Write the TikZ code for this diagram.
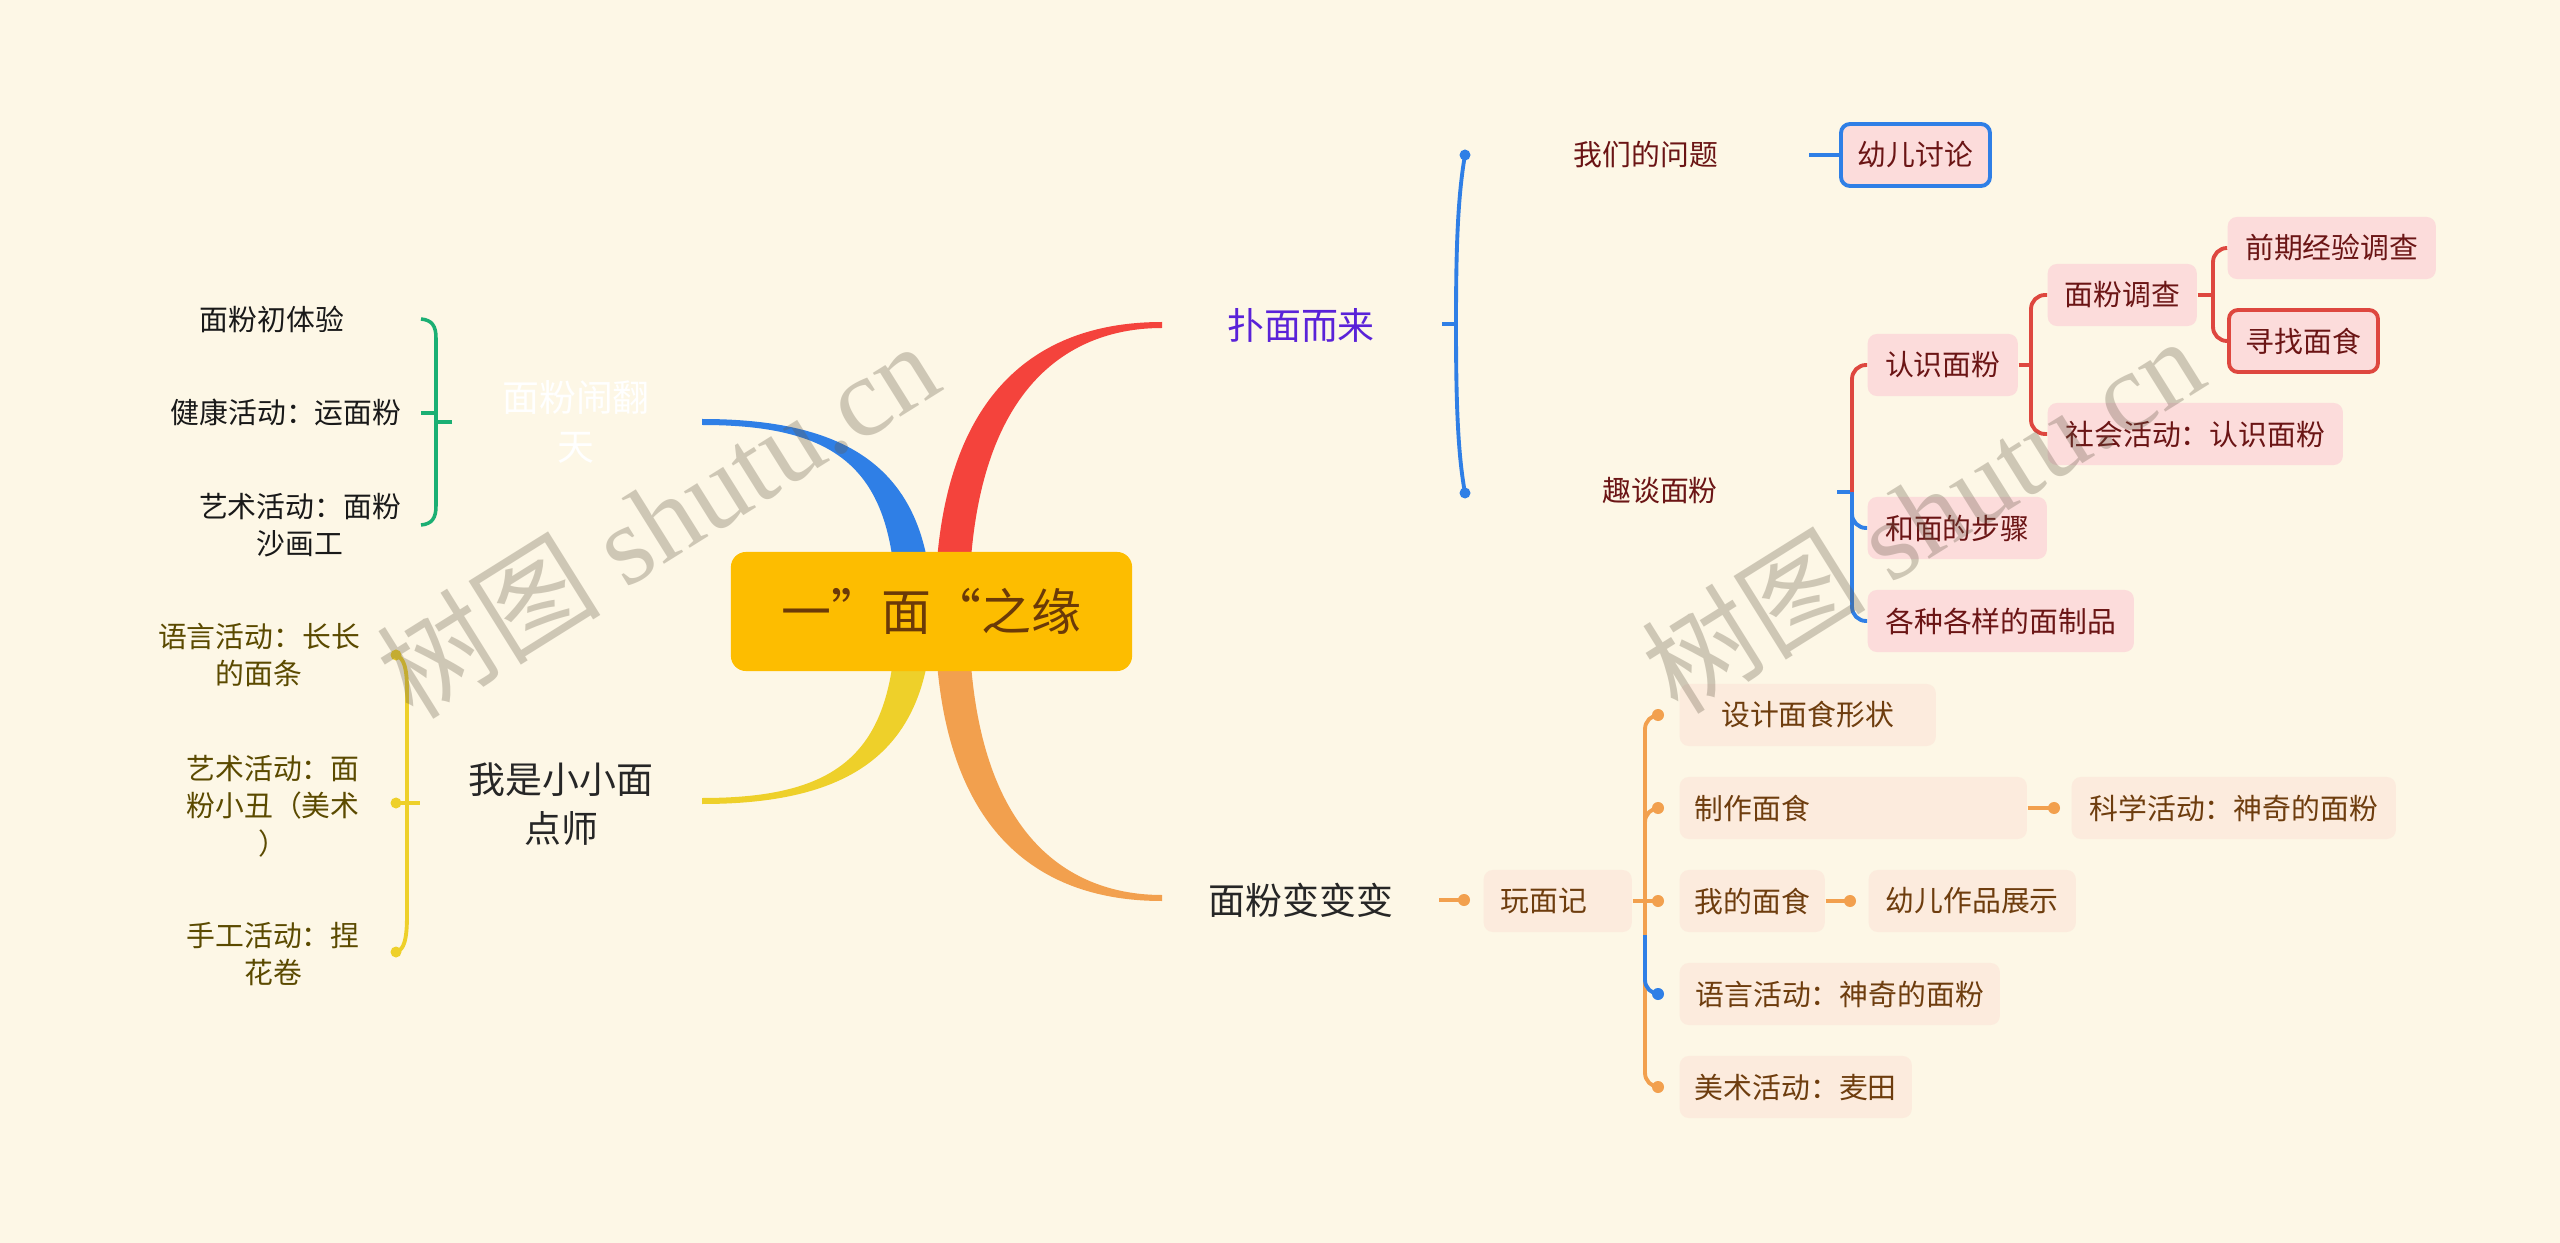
\documentclass[tikz,border=0pt]{standalone}
\usepackage{fontspec}
\setmainfont{Noto Sans CJK SC}
\newfontfamily\wmserif{Liberation Serif}
\definecolor{bg}{HTML}{FDF7E6}
\definecolor{cblue}{HTML}{2F7FE6}
\definecolor{mred}{HTML}{F4433C}
\definecolor{cred}{HTML}{DE473F}
\definecolor{corange}{HTML}{F2A04E}
\definecolor{cyellow}{HTML}{EED02A}
\definecolor{cgreen}{HTML}{1BAF73}
\definecolor{cpurple}{HTML}{5A22D8}
\definecolor{rootfill}{HTML}{FDBD00}
\definecolor{roottext}{HTML}{6B3A08}
\definecolor{pinkc}{HTML}{FCDCDB}
\definecolor{cdred}{HTML}{6B1515}
\definecolor{peach}{HTML}{FCEBDD}
\definecolor{cbrown}{HTML}{6E3D0E}
\definecolor{colive}{HTML}{5B4A00}
\definecolor{cdark}{HTML}{262626}
\definecolor{wmcol}{HTML}{645A46}
\begin{document}
\begin{tikzpicture}[x=0.01cm,y=-0.01cm,
  leaf/.style={font=\fontsize{8.2}{10.7}\selectfont, inner sep=0pt, align=center, text=black!90},
  lone/.style={font=\fontsize{10.5}{13.9}\selectfont, inner sep=0pt, align=center},
  pbox/.style={fill=pinkc, rounded corners=2.6pt, minimum height=0.62cm, inner sep=0pt, anchor=west, text=cdred, font=\fontsize{8.2}{10.7}\selectfont},
  obox/.style={fill=peach, rounded corners=2.6pt, minimum height=0.62cm, inner sep=0pt, anchor=west, text=cbrown, font=\fontsize{8.2}{10.7}\selectfont},
  bl/.style={draw=cblue, line width=1.1pt},
  rl/.style={draw=cred, line width=1.1pt},
  ol/.style={draw=corange, line width=1.1pt},
  yl/.style={draw=cyellow, line width=1.1pt},
  gl/.style={draw=cgreen, line width=1pt},
  wm/.style={text=wmcol, text opacity=0.3, font=\fontsize{32}{32}\selectfont, inner sep=0pt}
]
\useasboundingbox (0,0) rectangle (2560,1243);
\fill[bg] (0,0) rectangle (2560,1243);

% main tapered branches
\fill[cblue] (932,611) .. controls (930,470) and (850,419) .. (702,419) -- (702,425) .. controls (840,425) and (895,470) .. (896,611) -- cycle;
\fill[mred] (935,611) .. controls (935,360) and (1070,322) .. (1162,322) -- (1162,328) .. controls (1075,328) and (969,380) .. (969,611) -- cycle;
\begin{scope}[shift={(0,1223)},yscale=-1]
\fill[cyellow] (932,611) .. controls (930,470) and (850,419) .. (702,419) -- (702,425) .. controls (840,425) and (895,470) .. (896,611) -- cycle;
\fill[corange] (935,611) .. controls (935,360) and (1070,322) .. (1162,322) -- (1162,328) .. controls (1075,328) and (969,380) .. (969,611) -- cycle;
\end{scope}

% root
\node[fill=rootfill, rounded corners=4.3pt, minimum width=4.01cm, minimum height=1.19cm, inner sep=0pt,
      text=roottext, font=\fontsize{14.2}{16}\selectfont] (root) at (931.5,611.5)
      {一{\addfontfeature{CharacterWidth=Full}”}面{\addfontfeature{CharacterWidth=Full}“}之缘};

% first level labels
\node[lone, text=cpurple] (pumian) at (1301,325) {扑面而来};
\node[lone, text=cdark] (bianbian) at (1301,900) {面粉变变变};
\node[lone, text=white] (naofan) at (576,422) {面粉闹翻\\天};
\node[lone, text=cdark] (dianshi) at (561,804) {我是小小面\\点师};

% left green group
\node[leaf] (g1) at (272,319) {面粉初体验};
\node[leaf] (g2) at (286,412) {健康活动：运面粉};
\node[leaf] (g3) at (300,525) {艺术活动：面粉\\沙画工};
\coordinate (gp) at (452,422);
\coordinate (gj) at (436,422);
\coordinate (gt) at (421,319);
\coordinate (gm) at (421,413);
\coordinate (gb) at (421,525);
\draw[gl] (gp) -- (gj);
\draw[gl] (gt) .. controls (432,320) and (436,326) .. (436,338) -- (436,506) .. controls (436,518) and (432,524) .. (gb);
\draw[gl] (gm) -- (436,413);

% left yellow group
\node[leaf, text=colive] (y1) at (259,655) {语言活动：长长\\的面条};
\node[leaf, text=colive] (y2) at (273,806) {艺术活动：面\\粉小丑（美术\\）};
\node[leaf, text=colive] (y3) at (273,954) {手工活动：捏\\花卷};
\coordinate (yt) at (396,655);
\coordinate (ym) at (396,803);
\coordinate (yb) at (396,952);
\coordinate (yp) at (420,803);
\draw[yl] (yt) .. controls (404,658) and (407,668) .. (407,690) -- (407,915) .. controls (407,940) and (404,950) .. (yb);
\draw[yl] (ym) -- (yp);
\foreach \p in {yt,ym,yb} \fill[cyellow] (\p) circle[radius=0.055cm];

% right top group
\node[leaf, text=cdred] (wenti) at (1646,155) {我们的问题};
\node[leaf, text=cdred] (qutan) at (1660,491) {趣谈面粉};
\coordinate (pt) at (1442,324);
\coordinate (pj) at (1456,324);
\coordinate (pd1) at (1465,155);
\coordinate (pd2) at (1465,493);
\draw[bl] (pt) -- (pj);
\draw[bl] (pd1) .. controls (1457,200) and (1456,260) .. (pj) .. controls (1456,390) and (1457,450) .. (pd2);
\fill[cblue] (pd1) circle[radius=0.055cm];
\fill[cblue] (pd2) circle[radius=0.055cm];

\node[pbox, draw=cblue, line width=1.1pt, minimum width=1.49cm] (taolun) at (1839,155) {幼儿讨论};
\coordinate (wq) at (1809,155);
\draw[bl] (wq) -- (taolun.west);

\node[pbox, minimum width=1.50cm] (renshi) at (1867,365) {认识面粉};
\node[pbox, minimum width=1.49cm] (diaocha) at (2047,295) {面粉调查};
\node[pbox, minimum width=2.08cm] (qianqi) at (2227,248) {前期经验调查};
\node[pbox, draw=cred, line width=1.1pt, minimum width=1.49cm] (xunzhao) at (2227,341) {寻找面食};
\node[pbox, minimum width=2.95cm] (shehui) at (2047,434) {社会活动：认识面粉};
\node[pbox, minimum width=1.79cm] (hemian) at (1867,528) {和面的步骤};
\node[pbox, minimum width=2.66cm] (gezhong) at (1867,621) {各种各样的面制品};

\coordinate (qs) at (1837,492);
\coordinate (qj) at (1852,492);
\draw[bl] (qs) -- (qj);
\draw[bl, rounded corners=4pt] (qj) |- (hemian.west);
\draw[bl, rounded corners=4pt] (qj) |- (gezhong.west);
\draw[rl, rounded corners=4pt] (qj) |- (renshi.west);

\coordinate (rj) at (2031,365);
\draw[rl] (renshi.east) -- (rj);
\draw[rl, rounded corners=4pt] (rj) |- (diaocha.west);
\draw[rl, rounded corners=4pt] (rj) |- (shehui.west);
\coordinate (dj) at (2213,295);
\draw[rl] (diaocha.east) -- (dj);
\draw[rl, rounded corners=4pt] (dj) |- (qianqi.west);
\draw[rl, rounded corners=4pt] (dj) |- (xunzhao.west);

% right bottom group
\node[obox, text width=1.14cm, inner xsep=0.17cm, align=left] (wanmian) at (1483,901) {玩面记};
\node[obox, minimum width=2.56cm] (sheji) at (1679,715) {设计面食形状};
\node[obox, text width=3.17cm, inner xsep=0.15cm, align=left] (zhizuo) at (1679,808) {制作面食};
\node[obox, minimum width=3.24cm] (kexue) at (2071,808) {科学活动：神奇的面粉};
\node[obox, minimum width=1.45cm] (wode) at (1679,901) {我的面食};
\node[obox, minimum width=2.07cm] (zuopin) at (1868,901) {幼儿作品展示};
\node[obox, minimum width=3.20cm] (yuyan) at (1679,994) {语言活动：神奇的面粉};
\node[obox, minimum width=2.32cm] (meishu) at (1679,1087) {美术活动：麦田};

\coordinate (bo) at (1439,900);
\coordinate (bd) at (1464,900);
\draw[ol] (bo) -- (bd);
\fill[corange] (bd) circle[radius=0.06cm];

\coordinate (wj) at (1645,901);
\coordinate (o1) at (1658,715);
\coordinate (o2) at (1658,808);
\coordinate (o3) at (1658,901);
\coordinate (o4) at (1658,994);
\coordinate (o5) at (1658,1087);
\draw[ol] (wanmian.east) -- (wj);
\draw[ol, rounded corners=4pt] (wj) |- (o1);
\draw[ol, rounded corners=4pt] (wj) |- (o2);
\draw[ol] (wj) -- (o3);
\draw[ol, rounded corners=4pt] (wj) |- (o5);
\draw[bl, rounded corners=4pt] (1645,935) |- (o4);
\foreach \p in {o1,o2,o3,o5} \fill[corange] (\p) circle[radius=0.06cm];
\fill[cblue] (o4) circle[radius=0.06cm];

\coordinate (kd) at (2054,808);
\draw[ol] (zhizuo.east) -- (kd);
\fill[corange] (kd) circle[radius=0.06cm];
\coordinate (zd) at (1850,901);
\draw[ol] (wode.east) -- (zd);
\fill[corange] (zd) circle[radius=0.06cm];

% watermarks
\node[wm, rotate=32] (wm1) at (657,519) {树图 {\wmserif shutu.cn}};
\node[wm, rotate=32] (wm2) at (1922,514) {树图 {\wmserif shutu.cn}};
\end{tikzpicture}
\end{document}
